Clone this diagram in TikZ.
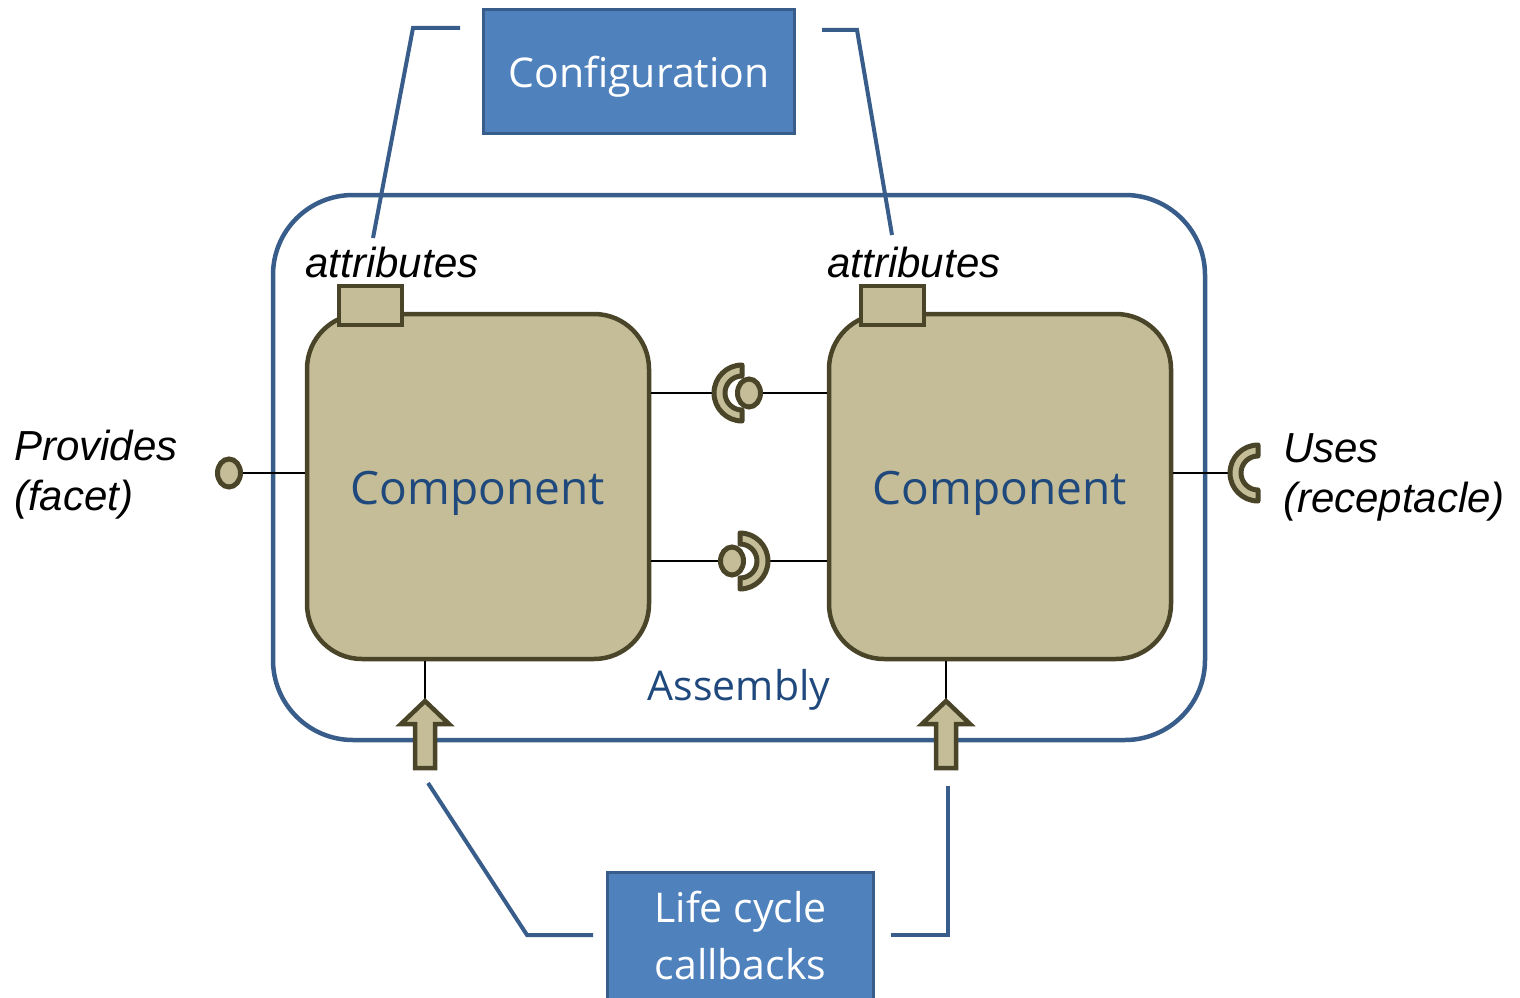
\documentclass[tikz,border=0pt]{standalone}
\usepackage{fontspec}
\setmainfont{Open Sans}
\newfontfamily\labelfont{Liberation Sans}
\usetikzlibrary{positioning,shapes.geometric}
\definecolor{boxblue}{HTML}{4F81BD}
\definecolor{edgeblue}{HTML}{385D8A}
\definecolor{textblue}{HTML}{1F497D}
\definecolor{compfill}{HTML}{C4BD97}
\definecolor{compedge}{HTML}{4A4429}
\tikzset{
  bluebox/.style={draw=edgeblue, line width=3pt, fill=boxblue, text=white,
    inner sep=0pt, align=center, font=\fontsize{41}{57}\selectfont},
  comp/.style={draw=compedge, line width=4.5pt, fill=compfill, rounded corners=55pt,
    minimum width=342pt, minimum height=345pt},
  comptext/.style={text=textblue, font=\fontsize{46}{55}\selectfont},
  attrbox/.style={draw=compedge, line width=4.5pt, fill=compfill,
    minimum width=63pt, minimum height=39pt, inner sep=0pt},
  ball/.style={ellipse, draw=compedge, line width=5pt, fill=compfill,
    minimum width=23pt, minimum height=28pt, inner sep=0pt},
  sock/.style={draw=compedge, line width=5pt, fill=compfill, line join=round},
  socket/.pic={\draw[sock] (90:28) arc (90:270:28) -- (270:17) arc (270:90:17) -- cycle;},
  lcarrow/.style={draw=compedge, line width=4.5pt, fill=compfill, line join=miter},
  wire/.style={line width=2.5pt, black},
  bluewire/.style={line width=4pt, edgeblue},
  ital/.style={font=\labelfont\itshape\fontsize{42}{50}\selectfont, align=left, inner sep=0pt},
}
\begin{document}
\begin{tikzpicture}[x=1pt, y=-1pt, line cap=butt]
\useasboundingbox (0,0) rectangle (1520,998);

% assembly
\draw[edgeblue, line width=4.5pt, rounded corners=80pt] (273,195) rectangle (1205,740);
\node[text=textblue, font=\fontsize{41}{50}\selectfont] (asm) at (739,690) {Assembly};

% components
\node[comp] (comp1) at (478,486.5) {};
\node[comp] (comp2) at (1000,486.5) {};
\node[comptext] (name1) at ([yshift=-7pt]comp1.center) {Component};
\node[comptext] (name2) at ([yshift=-7pt]comp2.center) {Component};

\node[attrbox] (attr1) at (370.5,305.5) {};
\node[attrbox] (attr2) at (892.5,305.5) {};
\node[ital] (attrlab1) at (392,262) {attributes};
\node[ital] (attrlab2) at (914,262) {attributes};

% ports
\coordinate (sockA) at (742,393);
\coordinate (sockB) at (740,561);
\coordinate (recp) at (1258,473);

\draw[wire] (comp1.east |- sockA) -- ([xshift=-28pt]sockA);
\draw[wire] (comp1.east |- sockB) -- (718,561);
\draw[wire] ([xshift=28pt]sockB) -- (comp2.west |- sockB);
\draw[wire] (comp2.east |- recp) -- ([xshift=-28pt]recp);

\pic at (sockA) {socket};
\pic[rotate=180] at (sockB) {socket};
\pic at (recp) {socket};

\node[ball] (ballA) at (749,393) {};
\node[ball] (ballB) at (732,561) {};
\node[ball] (prov) at (229,473) {};
\draw[wire] (ballA.east) -- (ballA.east -| comp2.west);
\draw[wire] (prov.east) -- (prov.east -| comp1.west);

\node[ital, anchor=west] (provlab) at (14,475) {Provides\\(facet)};
\node[ital, anchor=west] (uselab) at (1283,477) {Uses\\(receptacle)};

% life cycle arrows
\coordinate (tip1) at (425,701);
\coordinate (tip2) at (946,701);
\foreach \t in {tip1,tip2}{
  \draw[wire] (comp1.south -| \t) -- (\t);
  \draw[lcarrow] (\t) -- ++(24,23) -- ++(-14,0) -- ++(0,44) -- ++(-20,0)
    -- ++(0,-44) -- ++(-14,0) -- cycle;
}

% boxes
\node[bluebox, minimum width=311pt, minimum height=124pt] (config) at (639,71.5) {};
\node[text=white, font=\fontsize{41}{57}\selectfont] (cfgtext) at ([yshift=-5pt]config.center) {Configuration};
\node[bluebox, minimum width=266pt, minimum height=128pt] (life) at (740.5,936) {Life cycle\\callbacks};

\coordinate (cfgL) at (460,28);
\coordinate (cfgR) at (822,30);
\coordinate (lifeL) at (593,935);
\coordinate (lifeR) at (891,935);
\draw[bluewire] (cfgL) -- (413,28) -- (373,238);
\draw[bluewire] (cfgR) -- (857,30) -- (892,235);
\draw[bluewire] (428,783) -- (527,935) -- (lifeL);
\draw[bluewire] (lifeR) -- (948,935) -- (948,786);

\end{tikzpicture}
\end{document}
